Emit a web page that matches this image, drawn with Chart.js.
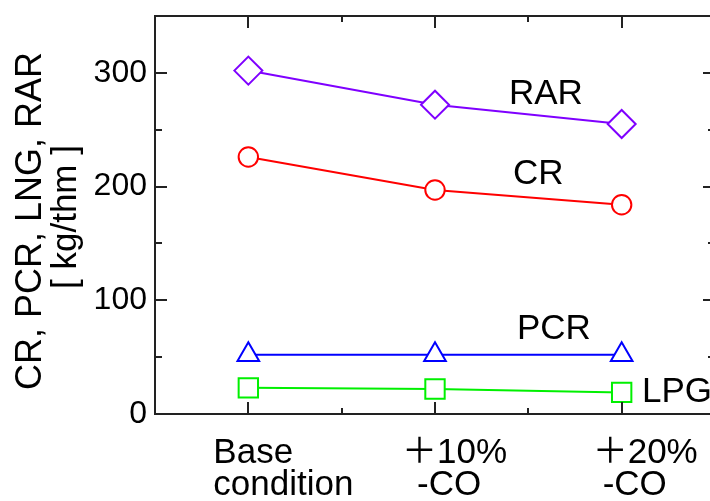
<!DOCTYPE html>
<html><head><meta charset="utf-8">
<script src="https://cdn.jsdelivr.net/npm/chart.js@4/dist/chart.umd.min.js"></script>
<style>html,body{margin:0;padding:0;overflow:hidden;background:#fff;width:710px;height:501px}
canvas{display:block}</style></head>
<body><canvas id="c" width="731" height="501"></canvas>
<script>
// ---- data ----
const categories = [["Base", "condition"], ["\uFF0B10%", "-CO"], ["\uFF0B20%", "-CO"]];
const xPositions = [1, 2, 3];
const rarValues = [302, 272, 255];
const crValues = [226, 197, 184];
const pcrValues = [52, 52, 52];
const lpgValues = [23, 22, 19];
const yTickValues = [0, 100, 200, 300];
const yMinorTickValues = [50, 150, 250];
const xMinorTickValues = [1.5, 2.5];
const seriesNames = ["RAR", "CR", "PCR", "LPG"];
const yTitle = ["CR, PCR, LNG, RAR", "[ kg/thm ]"];

// ---- styling / layout ----
const FONT = "'Liberation Sans', Arial, 'Noto Sans CJK JP', sans-serif";
const nameAnchors = { RAR: [2.396, 272.8], CR: [2.418, 202.6], PCR: [2.439, 65.8], LPG: [3.109, 10.5] };
// left-edge offsets (px) of each category label line relative to its tick
const labelLineShift = [[-35, -35], [-33, -18], [-29, -19]];
const labelLineBaseline = [49, 81]; // px below the x axis

function pts(vals) { return vals.map((v, i) => ({ x: xPositions[i], y: v })); }
function ds(label, vals, color, style, radius) {
  return {
    label, data: pts(vals), borderColor: color, backgroundColor: '#fff',
    borderWidth: 2, pointStyle: style, pointRadius: radius, pointHoverRadius: radius,
    pointBorderWidth: 2, pointBackgroundColor: '#fff', pointBorderColor: color, tension: 0
  };
}

const framePlugin = {
  id: 'frame',
  afterDraw(chart) {
    const { ctx, chartArea: a, scales: { x, y } } = chart;
    ctx.save();
    ctx.strokeStyle = '#222';
    ctx.lineWidth = 2;
    ctx.strokeRect(a.left, a.top, a.right - a.left, a.bottom - a.top);
    ctx.beginPath();
    const tick = (vals, len) => {
      vals.forEach(v => {
        const py = Math.round(y.getPixelForValue(v));
        ctx.moveTo(a.left, py); ctx.lineTo(a.left + len, py);
        ctx.moveTo(a.right, py); ctx.lineTo(a.right - len, py);
      });
    };
    const xtick = (vals, len) => {
      vals.forEach(v => {
        const px = Math.round(x.getPixelForValue(v));
        ctx.moveTo(px, a.bottom); ctx.lineTo(px, a.bottom - len);
        ctx.moveTo(px, a.top); ctx.lineTo(px, a.top + len);
      });
    };
    tick(yTickValues, 12); tick(yMinorTickValues, 7);
    xtick(xPositions, 12); xtick(xMinorTickValues, 6);
    ctx.stroke();

    ctx.fillStyle = '#000';
    ctx.font = '35px ' + FONT;
    ctx.textAlign = 'left';
    ctx.textBaseline = 'alphabetic';
    // series names
    seriesNames.forEach(n => {
      const [vx, vy] = nameAnchors[n];
      ctx.fillText(n, x.getPixelForValue(vx), y.getPixelForValue(vy));
    });
    // category labels
    categories.forEach((lines, i) => {
      const px = x.getPixelForValue(xPositions[i]);
      lines.forEach((t, j) => ctx.fillText(t, px + labelLineShift[i][j], a.bottom + labelLineBaseline[j]));
    });
    // y axis title
    ctx.translate(0, 0);
    ctx.textAlign = 'center';
    ctx.textBaseline = 'middle';
    const cy = (a.top + a.bottom) / 2;
    [[31, cy + 6, 36], [66, cy + 2, 35]].forEach(([tx, ty, fs], j) => {
      ctx.save();
      ctx.translate(tx, ty);
      ctx.rotate(-Math.PI / 2);
      ctx.font = fs + 'px ' + FONT;
      ctx.fillText(yTitle[j], 0, 0);
      ctx.restore();
    });
    ctx.restore();
  }
};

new Chart(document.getElementById('c'), {
  type: 'line',
  data: {
    datasets: [
      ds(seriesNames[0], rarValues, '#7f00ff', 'rectRot', 14),
      ds(seriesNames[1], crValues, '#ff0000', 'circle', 9.7),
      ds(seriesNames[2], pcrValues, '#0000ff', 'triangle', 12.5),
      ds(seriesNames[3], lpgValues, '#00f000', 'rect', 13.7)
    ]
  },
  options: {
    responsive: false,
    animation: false,
    devicePixelRatio: 1,
    layout: { padding: { top: 12, right: 5, left: 0, bottom: 0 } },
    plugins: { legend: { display: false }, tooltip: { enabled: false } },
    elements: { line: { fill: false } },
    scales: {
      x: {
        type: 'linear', min: 0.5, max: 3.5,
        grid: { display: false, drawTicks: false },
        border: { display: false },
        afterBuildTicks: s => { s.ticks = xPositions.map(v => ({ value: v })); },
        afterFit: s => { s.height = 87; s.paddingLeft = 0; s.paddingRight = 0; },
        ticks: { display: false }
      },
      y: {
        type: 'linear', min: 0, max: 350,
        grid: { display: false, drawTicks: false },
        border: { display: false },
        afterBuildTicks: s => { s.ticks = yTickValues.map(v => ({ value: v })); },
        afterFit: s => { s.width = 155; s.paddingTop = 0; s.paddingBottom = 0; },
        ticks: { padding: 8, color: '#000', font: { family: FONT, size: 32 } }
      }
    }
  },
  plugins: [framePlugin]
});
</script>
</body></html>
